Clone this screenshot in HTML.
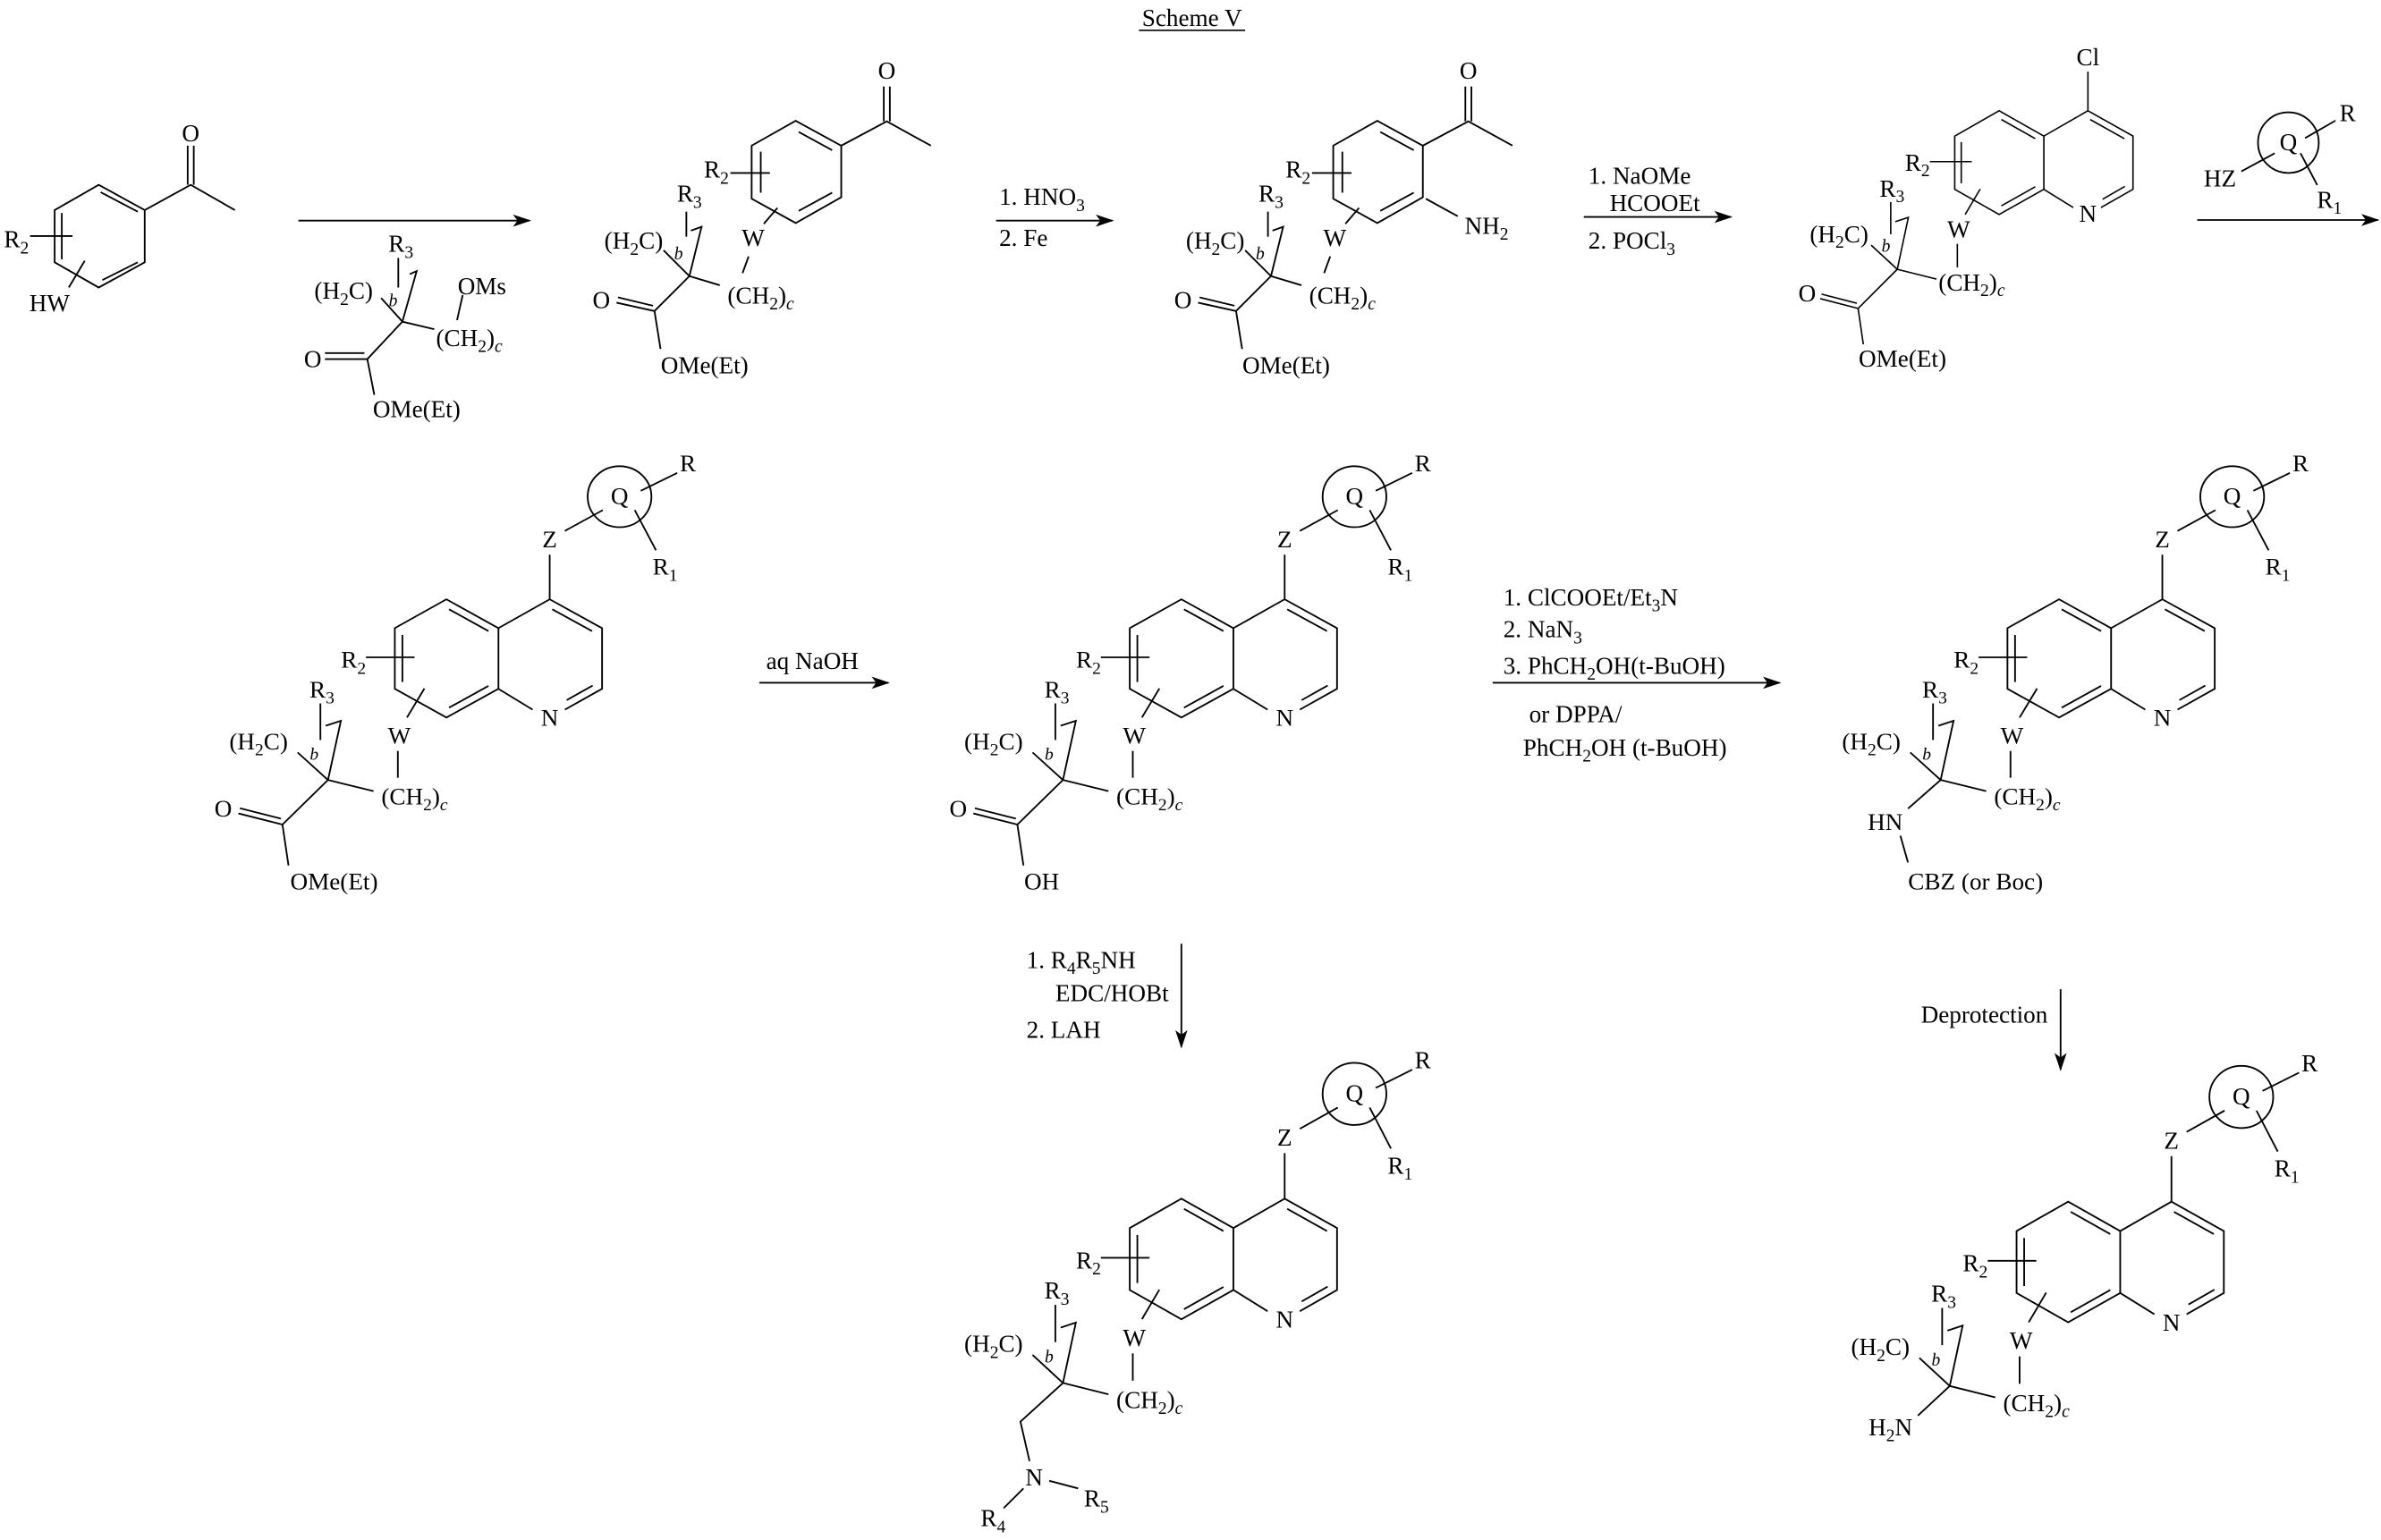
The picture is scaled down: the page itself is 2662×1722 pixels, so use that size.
<!DOCTYPE html>
<html><head><meta charset="utf-8">
<style>
html,body{margin:0;padding:0;background:#fff;}
svg{display:block;}
text{font-family:"Liberation Serif",serif;font-size:16px;fill:#000;}
.s{font-size:11.5px;}
.big text{font-size:18.6px;}
.big .s{font-size:13.4px;}
</style></head>
<body>
<svg width="2662" height="1722" viewBox="0 0 1568 1015" preserveAspectRatio="none" xmlns="http://www.w3.org/2000/svg">
<defs>
<g id="core" fill="none" stroke="#000" stroke-width="1.1">
<polyline points="0,0 34.5,19.4 34.5,60.2 10,74.2"/>
<polyline points="-11.25,74.2 -33.75,60.2 -33.75,19.4 0,0"/>
<polyline points="-33.75,19.4 -68,0 -102,19.4 -102,60.2 -68,79.5 -33.75,60.2"/>
<line x1="1.7" y1="6.7" x2="27.9" y2="21.4"/>
<line x1="28.3" y1="58" x2="11.2" y2="67.8"/>
<line x1="-66.3" y1="6.7" x2="-40.3" y2="21.4"/>
<line x1="-97" y1="24" x2="-97" y2="55.6"/>
<line x1="-66.3" y1="72.9" x2="-40.3" y2="58.2"/>
<line x1="-121" y1="39" x2="-89" y2="39"/>
<line x1="-82.5" y1="60" x2="-94" y2="79.5"/>
<line x1="-100" y1="102" x2="-100" y2="120"/>
<line x1="-146" y1="121.5" x2="-116" y2="129"/>
<polyline points="-146,121.5 -137.5,81.7 -147.5,85"/>
<line x1="-146" y1="121.5" x2="-166" y2="103"/>
<line x1="-151" y1="70" x2="-151" y2="94.6"/>
<line x1="0" y1="0" x2="0" y2="-30"/>
</g>
<g id="qz" fill="none" stroke="#000" stroke-width="1.1">
<line x1="10" y1="-46" x2="35" y2="-60"/>
<ellipse cx="46" cy="-69" rx="21" ry="20.5"/>
<line x1="60" y1="-73" x2="84" y2="-85"/>
<line x1="56" y1="-60" x2="70" y2="-33"/>
</g>
<g id="est" fill="none" stroke="#000" stroke-width="1.1">
<line x1="-146" y1="121.5" x2="-176" y2="151.5"/>
<line x1="-176" y1="151.5" x2="-205" y2="144"/>
<line x1="-177" y1="147.5" x2="-204" y2="140.5"/>
<line x1="-176" y1="151.5" x2="-172" y2="179"/>
</g>
<g id="ph1" fill="none" stroke="#000" stroke-width="1.1">
<polygon points="524,79.6 554,96 554,130 524,147 495,131 495,96"/>
<line x1="526" y1="87" x2="548" y2="99"/>
<line x1="526" y1="139" x2="548" y2="127"/>
<line x1="501" y1="100" x2="501" y2="127"/>
<polyline points="554,96 584,80 613,96"/>
<line x1="582" y1="80" x2="582" y2="57"/>
<line x1="586" y1="80" x2="586" y2="57"/>
<line x1="481" y1="114" x2="507" y2="114"/>
<line x1="452" y1="139.5" x2="452" y2="156"/>
<line x1="512" y1="137" x2="503" y2="147.5"/>
<line x1="493" y1="169" x2="489" y2="180"/>
<line x1="454" y1="182" x2="474" y2="188"/>
<polyline points="454,182 462,149.5 455,152"/>
<line x1="454" y1="182" x2="437" y2="165"/>
<line x1="454" y1="182" x2="431" y2="205"/>
<line x1="431" y1="205" x2="406" y2="199.5"/>
<line x1="430" y1="201.5" x2="407" y2="196"/>
<line x1="431" y1="205" x2="435" y2="230"/>
</g>
<marker id="ah" markerWidth="12" markerHeight="8" refX="11" refY="4" orient="auto" markerUnits="userSpaceOnUse">
<path d="M0,0 L12,4 L0,8 L3,4 Z" fill="#000"/>
</marker>
</defs>

<!-- Title -->
<text x="785" y="17" text-anchor="middle">Scheme V</text>
<line x1="750" y1="20" x2="820" y2="20" stroke="#000" stroke-width="0.9"/>

<!-- SM1 -->
<g fill="none" stroke="#000" stroke-width="1.1">
<polygon points="65,121.8 95.3,138.5 95.3,172.9 65,189.5 36,172.9 36,138.5"/>
<line x1="66.3" y1="126.7" x2="90.7" y2="139.5"/>
<line x1="67.4" y1="184.6" x2="90.7" y2="172.9"/>
<line x1="40.7" y1="140.4" x2="40.7" y2="170.9"/>
<polyline points="95.3,138.5 125.6,121.8 154.7,138.5"/>
<line x1="123.6" y1="121.8" x2="123.6" y2="96"/>
<line x1="127.6" y1="121.8" x2="127.6" y2="96"/>
<line x1="19.8" y1="155.6" x2="47.7" y2="155.6"/>
<line x1="55.8" y1="171.9" x2="45.3" y2="189.5"/>
</g>
<text x="125.6" y="93" text-anchor="middle">O</text>
<text x="19" y="163" text-anchor="end">R<tspan class="s" dy="4">2</tspan></text>
<text x="32.6" y="205" text-anchor="middle">HW</text>

<!-- Arrow 1 + reagent -->
<line x1="196.5" y1="145.4" x2="348.8" y2="145.4" stroke="#000" stroke-width="1.1" marker-end="url(#ah)"/>
<g fill="none" stroke="#000" stroke-width="1.1">
<line x1="262.3" y1="170" x2="262.3" y2="189.5"/>
<polyline points="265,212 274.4,178.7 269.8,180.7"/>
<line x1="265" y1="212" x2="251" y2="196.4"/>
<line x1="265" y1="212" x2="286" y2="217"/>
<line x1="304.7" y1="194.5" x2="301" y2="211"/>
<line x1="265" y1="212" x2="241.9" y2="236.7"/>
<line x1="214" y1="236.7" x2="241.9" y2="236.7"/>
<line x1="214" y1="232.7" x2="240" y2="232.7"/>
<line x1="241.9" y1="236.7" x2="246.5" y2="260.3"/>
</g>
<text x="264" y="166" text-anchor="middle">R<tspan class="s" dy="4">3</tspan></text>
<text x="207" y="197">(H<tspan class="s" dy="4">2</tspan><tspan dy="-4">C)</tspan></text>
<text x="256" y="202" class="s" font-style="italic">b</text>
<text x="317.4" y="194" text-anchor="middle">OMs</text>
<text x="309" y="228" text-anchor="middle">(CH<tspan class="s" dy="4">2</tspan><tspan dy="-4">)</tspan><tspan class="s" dy="4" font-style="italic">c</tspan></text>
<text x="206" y="242" text-anchor="middle">O</text>
<text x="274.4" y="275" text-anchor="middle">OMe(Et)</text>

<!-- Product 1 -->
<use href="#ph1"/>
<text x="584" y="52" text-anchor="middle">O</text>
<text x="480" y="117" text-anchor="end">R<tspan class="s" dy="4">2</tspan></text>
<text x="454" y="133" text-anchor="middle">R<tspan class="s" dy="4">3</tspan></text>
<text x="496" y="162" text-anchor="middle">W</text>
<text x="501" y="200" text-anchor="middle">(CH<tspan class="s" dy="4">2</tspan><tspan dy="-4">)</tspan><tspan class="s" dy="4" font-style="italic">c</tspan></text>
<text x="398" y="164">(H<tspan class="s" dy="4">2</tspan><tspan dy="-4">C)</tspan></text>
<text x="444" y="171" class="s" font-style="italic">b</text>
<text x="396" y="203" text-anchor="middle">O</text>
<text x="464" y="246" text-anchor="middle">OMe(Et)</text>

<!-- Arrow 2 -->
<line x1="656" y1="145.4" x2="732.6" y2="145.4" stroke="#000" stroke-width="1.1" marker-end="url(#ah)"/>
<text x="658" y="135">1. HNO<tspan class="s" dy="4">3</tspan></text>
<text x="658" y="162">2. Fe</text>

<!-- Product 2 -->
<g transform="translate(383,0)">
<use href="#ph1"/>
<line x1="556" y1="131" x2="577" y2="142.5" stroke="#000" stroke-width="1.1"/>
<text x="584" y="52" text-anchor="middle">O</text>
<text x="480" y="117" text-anchor="end">R<tspan class="s" dy="4">2</tspan></text>
<text x="454" y="133" text-anchor="middle">R<tspan class="s" dy="4">3</tspan></text>
<text x="496" y="162" text-anchor="middle">W</text>
<text x="501" y="200" text-anchor="middle">(CH<tspan class="s" dy="4">2</tspan><tspan dy="-4">)</tspan><tspan class="s" dy="4" font-style="italic">c</tspan></text>
<text x="398" y="164">(H<tspan class="s" dy="4">2</tspan><tspan dy="-4">C)</tspan></text>
<text x="444" y="171" class="s" font-style="italic">b</text>
<text x="396" y="203" text-anchor="middle">O</text>
<text x="464" y="246" text-anchor="middle">OMe(Et)</text>
<text x="596" y="154" text-anchor="middle">NH<tspan class="s" dy="4">2</tspan></text>
</g>

<!-- Arrow 3 -->
<line x1="1043" y1="143" x2="1140" y2="143" stroke="#000" stroke-width="1.1" marker-end="url(#ah)"/>
<text x="1046" y="121">1. NaOMe</text>
<text x="1060" y="139">HCOOEt</text>
<text x="1046" y="164">2. POCl<tspan class="s" dy="4">3</tspan></text>

<!-- Chloroquinoline -->
<g class="big" transform="translate(1375,73) scale(0.86)">
<use href="#core"/><use href="#est"/>
<text x="0" y="-35" text-anchor="middle">Cl</text>
<text x="0" y="85" text-anchor="middle">N</text>
<text x="-121" y="46" text-anchor="end">R<tspan class="s" dy="4">2</tspan></text>
<text x="-99" y="97" text-anchor="middle">W</text>
<text x="-89" y="138" text-anchor="middle">(CH<tspan class="s" dy="4">2</tspan><tspan dy="-4">)</tspan><tspan class="s" dy="4" font-style="italic">c</tspan></text>
<text x="-150" y="66" text-anchor="middle">R<tspan class="s" dy="4">3</tspan></text>
<text x="-213" y="101">(H<tspan class="s" dy="4">2</tspan><tspan dy="-4">C)</tspan></text>
<text x="-158" y="108" class="s" font-style="italic">b</text>
<text x="-215" y="146" text-anchor="middle">O</text>
<text x="-142" y="196" text-anchor="middle">OMe(Et)</text>
</g>

<!-- Arrow 4 + HZ-Q reagent -->
<line x1="1447" y1="145" x2="1566" y2="145" stroke="#000" stroke-width="1.1" marker-end="url(#ah)"/>
<g fill="none" stroke="#000" stroke-width="1.1">
<circle cx="1507" cy="94" r="20"/>
<line x1="1476" y1="113" x2="1498" y2="101"/>
<line x1="1518" y1="91" x2="1538" y2="79.5"/>
<line x1="1515" y1="101" x2="1526" y2="122"/>
</g>
<text x="1462" y="123" text-anchor="middle">HZ</text>
<text x="1507" y="99" text-anchor="middle">Q</text>
<text x="1546" y="80" text-anchor="middle">R</text>
<text x="1534" y="137" text-anchor="middle">R<tspan class="s" dy="4">1</tspan></text>

<!-- Row 2 left: ester -->
<g transform="translate(362,395) scale(1,0.98)">
<use href="#core"/><use href="#qz"/><use href="#est"/>
<text x="0" y="-35" text-anchor="middle">Z</text>
<text x="46" y="-64" text-anchor="middle">Q</text>
<text x="91" y="-86" text-anchor="middle">R</text>
<text x="76" y="-16.5" text-anchor="middle">R<tspan class="s" dy="4">1</tspan></text>
<text x="0" y="85" text-anchor="middle">N</text>
<text x="-121" y="46" text-anchor="end">R<tspan class="s" dy="4">2</tspan></text>
<text x="-99" y="97" text-anchor="middle">W</text>
<text x="-89" y="138" text-anchor="middle">(CH<tspan class="s" dy="4">2</tspan><tspan dy="-4">)</tspan><tspan class="s" dy="4" font-style="italic">c</tspan></text>
<text x="-150" y="66" text-anchor="middle">R<tspan class="s" dy="4">3</tspan></text>
<text x="-211" y="101">(H<tspan class="s" dy="4">2</tspan><tspan dy="-4">C)</tspan></text>
<text x="-158" y="108" class="s" font-style="italic">b</text>
<text x="-215" y="146" text-anchor="middle">O</text>
<text x="-142" y="195" text-anchor="middle">OMe(Et)</text>
</g>

<!-- Arrow aq NaOH -->
<line x1="500" y1="450" x2="585" y2="450" stroke="#000" stroke-width="1.1" marker-end="url(#ah)"/>
<text x="535" y="441" text-anchor="middle">aq NaOH</text>

<!-- Row 2 mid: acid -->
<g transform="translate(846,395) scale(1,0.98)">
<use href="#core"/><use href="#qz"/><use href="#est"/>
<text x="0" y="-35" text-anchor="middle">Z</text>
<text x="46" y="-64" text-anchor="middle">Q</text>
<text x="91" y="-86" text-anchor="middle">R</text>
<text x="76" y="-16.5" text-anchor="middle">R<tspan class="s" dy="4">1</tspan></text>
<text x="0" y="85" text-anchor="middle">N</text>
<text x="-121" y="46" text-anchor="end">R<tspan class="s" dy="4">2</tspan></text>
<text x="-99" y="97" text-anchor="middle">W</text>
<text x="-89" y="138" text-anchor="middle">(CH<tspan class="s" dy="4">2</tspan><tspan dy="-4">)</tspan><tspan class="s" dy="4" font-style="italic">c</tspan></text>
<text x="-150" y="66" text-anchor="middle">R<tspan class="s" dy="4">3</tspan></text>
<text x="-211" y="101">(H<tspan class="s" dy="4">2</tspan><tspan dy="-4">C)</tspan></text>
<text x="-158" y="108" class="s" font-style="italic">b</text>
<text x="-215" y="146" text-anchor="middle">O</text>
<text x="-160" y="195" text-anchor="middle">OH</text>
</g>

<!-- Arrow Curtius -->
<line x1="983" y1="450" x2="1172" y2="450" stroke="#000" stroke-width="1.1" marker-end="url(#ah)"/>
<text x="990" y="399">1. ClCOOEt/Et<tspan class="s" dy="4">3</tspan><tspan dy="-4">N</tspan></text>
<text x="990" y="420">2. NaN<tspan class="s" dy="4">3</tspan></text>
<text x="990" y="444">3. PhCH<tspan class="s" dy="4">2</tspan><tspan dy="-4">OH(t-BuOH)</tspan></text>
<text x="1007" y="476">or DPPA/</text>
<text x="1003" y="498">PhCH<tspan class="s" dy="4">2</tspan><tspan dy="-4">OH (t-BuOH)</tspan></text>

<!-- Row 2 right: NH-CBZ -->
<g transform="translate(1424,395) scale(1,0.98)">
<use href="#core"/><use href="#qz"/>
<g fill="none" stroke="#000" stroke-width="1.1">
<line x1="-146" y1="121.5" x2="-167.5" y2="140.8"/>
<line x1="-172.5" y1="159" x2="-167.5" y2="177"/>
</g>
<text x="0" y="-35" text-anchor="middle">Z</text>
<text x="46" y="-64" text-anchor="middle">Q</text>
<text x="91" y="-86" text-anchor="middle">R</text>
<text x="76" y="-16.5" text-anchor="middle">R<tspan class="s" dy="4">1</tspan></text>
<text x="0" y="85" text-anchor="middle">N</text>
<text x="-121" y="46" text-anchor="end">R<tspan class="s" dy="4">2</tspan></text>
<text x="-99" y="97" text-anchor="middle">W</text>
<text x="-89" y="138" text-anchor="middle">(CH<tspan class="s" dy="4">2</tspan><tspan dy="-4">)</tspan><tspan class="s" dy="4" font-style="italic">c</tspan></text>
<text x="-150" y="66" text-anchor="middle">R<tspan class="s" dy="4">3</tspan></text>
<text x="-211" y="101">(H<tspan class="s" dy="4">2</tspan><tspan dy="-4">C)</tspan></text>
<text x="-158" y="108" class="s" font-style="italic">b</text>
<text x="-182.5" y="155" text-anchor="middle">HN</text>
<text x="-123" y="195" text-anchor="middle">CBZ (or Boc)</text>
</g>

<!-- Vertical arrow mid -->
<line x1="778" y1="622" x2="778" y2="690" stroke="#000" stroke-width="1.1" marker-end="url(#ah)"/>
<text x="676" y="638">1. R<tspan class="s" dy="4">4</tspan><tspan dy="-4">R</tspan><tspan class="s" dy="4">5</tspan><tspan dy="-4">NH</tspan></text>
<text x="695" y="660">EDC/HOBt</text>
<text x="676" y="684">2. LAH</text>

<!-- Deprotection arrow -->
<line x1="1357" y1="652" x2="1357" y2="705" stroke="#000" stroke-width="1.1" marker-end="url(#ah)"/>
<text x="1265" y="674">Deprotection</text>

<!-- Bottom mid: amine -->
<g transform="translate(846,790)">
<use href="#core"/><use href="#qz"/>
<g fill="none" stroke="#000" stroke-width="1.1">
<polyline points="-146,121.5 -174,147 -168,173"/>
<line x1="-155" y1="186" x2="-136" y2="191"/>
<line x1="-172" y1="191" x2="-185" y2="204"/>
</g>
<text x="0" y="-35" text-anchor="middle">Z</text>
<text x="46" y="-64" text-anchor="middle">Q</text>
<text x="91" y="-86" text-anchor="middle">R</text>
<text x="76" y="-16.5" text-anchor="middle">R<tspan class="s" dy="4">1</tspan></text>
<text x="0" y="85" text-anchor="middle">N</text>
<text x="-121" y="46" text-anchor="end">R<tspan class="s" dy="4">2</tspan></text>
<text x="-99" y="97" text-anchor="middle">W</text>
<text x="-89" y="138" text-anchor="middle">(CH<tspan class="s" dy="4">2</tspan><tspan dy="-4">)</tspan><tspan class="s" dy="4" font-style="italic">c</tspan></text>
<text x="-150" y="66" text-anchor="middle">R<tspan class="s" dy="4">3</tspan></text>
<text x="-211" y="101">(H<tspan class="s" dy="4">2</tspan><tspan dy="-4">C)</tspan></text>
<text x="-158" y="108" class="s" font-style="italic">b</text>
<text x="-165" y="189" text-anchor="middle">N</text>
<text x="-124" y="203" text-anchor="middle">R<tspan class="s" dy="4">5</tspan></text>
<text x="-192" y="216" text-anchor="middle">R<tspan class="s" dy="4">4</tspan></text>
</g>

<!-- Bottom right: free amine -->
<g transform="translate(1430,792)">
<use href="#core"/><use href="#qz"/>
<line x1="-146" y1="121.5" x2="-167" y2="141" stroke="#000" stroke-width="1.1"/>
<text x="0" y="-35" text-anchor="middle">Z</text>
<text x="46" y="-64" text-anchor="middle">Q</text>
<text x="91" y="-86" text-anchor="middle">R</text>
<text x="76" y="-16.5" text-anchor="middle">R<tspan class="s" dy="4">1</tspan></text>
<text x="0" y="85" text-anchor="middle">N</text>
<text x="-121" y="46" text-anchor="end">R<tspan class="s" dy="4">2</tspan></text>
<text x="-99" y="97" text-anchor="middle">W</text>
<text x="-89" y="138" text-anchor="middle">(CH<tspan class="s" dy="4">2</tspan><tspan dy="-4">)</tspan><tspan class="s" dy="4" font-style="italic">c</tspan></text>
<text x="-150" y="66" text-anchor="middle">R<tspan class="s" dy="4">3</tspan></text>
<text x="-211" y="101">(H<tspan class="s" dy="4">2</tspan><tspan dy="-4">C)</tspan></text>
<text x="-158" y="108" class="s" font-style="italic">b</text>
<text x="-185" y="154" text-anchor="middle">H<tspan class="s" dy="4">2</tspan><tspan dy="-4">N</tspan></text>
</g>
</svg>
</body></html>
